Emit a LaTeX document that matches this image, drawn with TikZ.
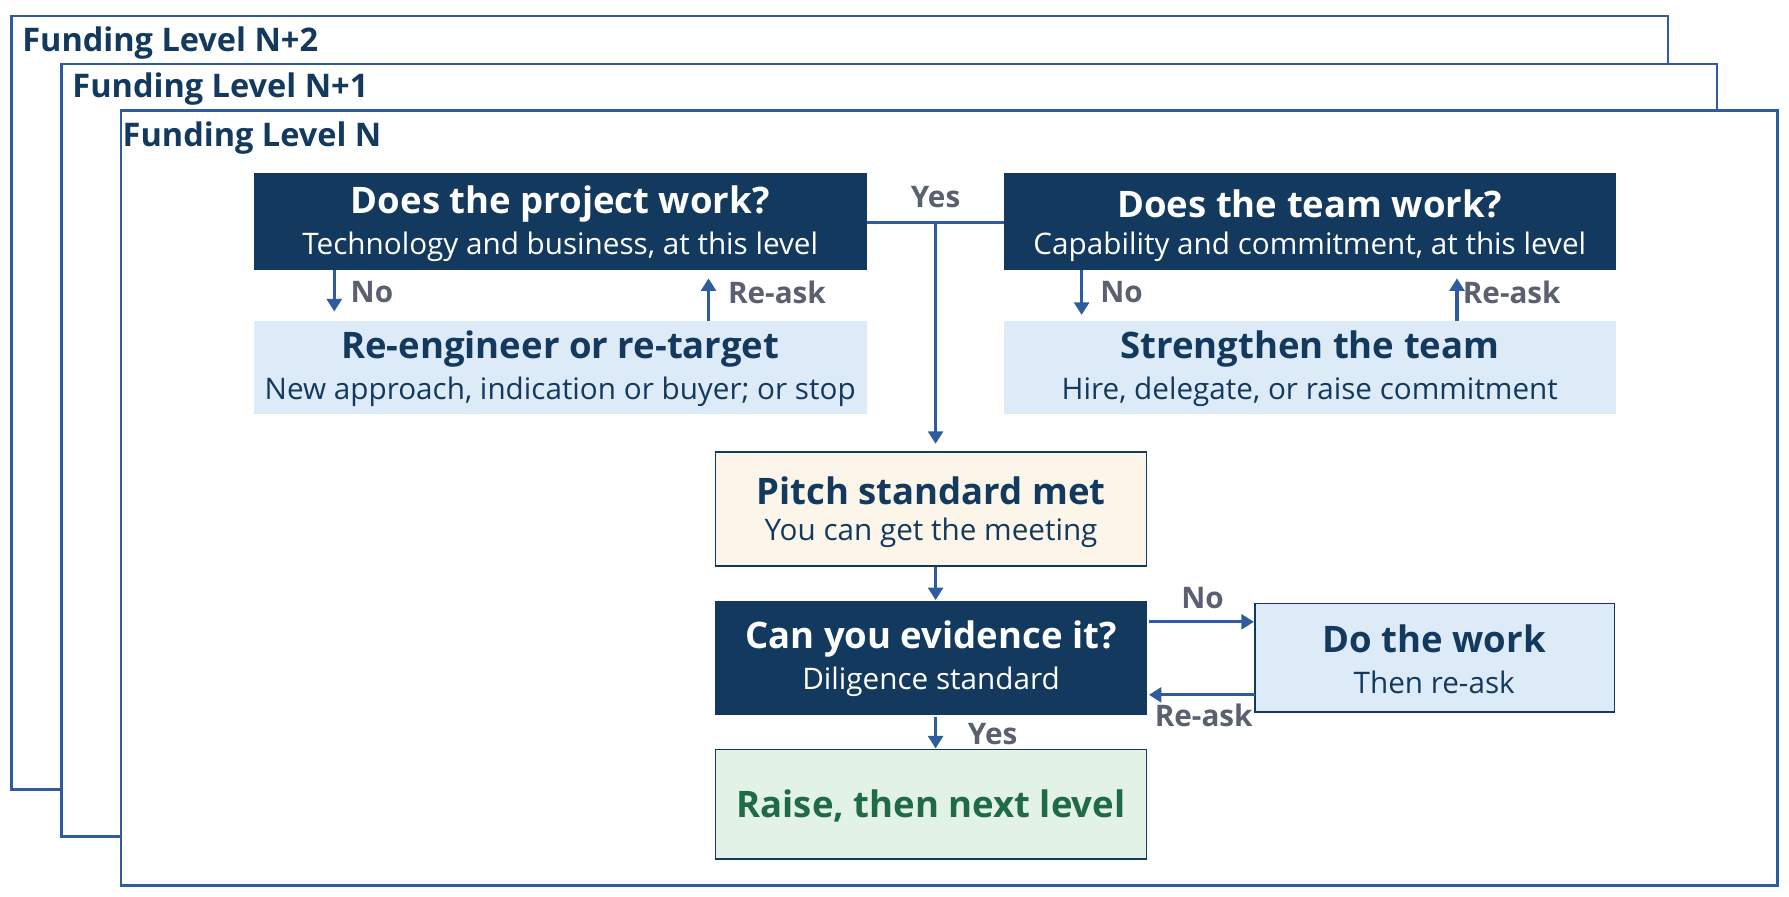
\documentclass[tikz,border=0pt]{standalone}
\usepackage{fontspec}
\setmainfont{Open Sans}
\usetikzlibrary{arrows.meta}
\definecolor{navy}{HTML}{133A5E}
\definecolor{lblue}{HTML}{DDEAF7}
\definecolor{cream}{HTML}{FBF6E9}
\definecolor{lgreen}{HTML}{E3F2E6}
\definecolor{gtext}{HTML}{1E6B45}
\definecolor{arr}{HTML}{2E5C9E}
\definecolor{lab}{HTML}{5A6070}
\begin{document}
\begin{tikzpicture}[x=1pt,y=-1pt,
 frame/.style={draw=arr,line width=2.2pt,fill=white},
 flab/.style={anchor=west,text=navy,font=\fontsize{28.5}{30}\selectfont\bfseries},
 ttl/.style={font=\fontsize{32}{36}\selectfont\bfseries},
 sub/.style={font=\fontsize{26}{30}\selectfont},
 con/.style={draw=arr,line width=2.8pt,-{Triangle[length=11pt,width=13pt]}},
 ln/.style={draw=arr,line width=2.8pt},
 clab/.style={text=lab,font=\fontsize{26}{30}\selectfont\bfseries}]
\useasboundingbox (0,0) rectangle (1568,786);
\draw[frame] (10,14) rectangle (1462,692);
\node[flab] (l2) at (16,38) {Funding Level N+2};
\draw[frame] (54,56) rectangle (1505,733);
\node[flab] (l1) at (60,78) {Funding Level N+1};
\draw[frame] (106,97) rectangle (1558,776);
\node[flab] (l0) at (104,121) {Funding Level N};
% boxes
\fill[navy] (223,152) rectangle (760,237);
\node[ttl,text=white] (At) at (491,179) {Does the project work?};
\node[sub,text=white] (As) at (491,216) {Technology and business, at this level};
\fill[navy] (880,152) rectangle (1416,237);
\node[ttl,text=white] (Bt) at (1148,179) {Does the team work?};
\node[sub,text=white] (Bs) at (1148,216) {Capability and commitment, at this level};
\fill[lblue] (223,281) rectangle (760,363);
\node[ttl,text=navy] (Ct) at (491,306) {Re-engineer or re-target};
\node[sub,text=navy] (Cs) at (491,343) {New approach, indication or buyer; or stop};
\fill[lblue] (880,281) rectangle (1416,363);
\node[ttl,text=navy] (Dt) at (1148,306) {Strengthen the team};
\node[sub,text=navy] (Ds) at (1148,343) {Hire, delegate, or raise commitment};
\draw[navy,fill=cream,line width=1.2pt] (627,396) rectangle (1005,496);
\node[ttl,text=navy] (Pt) at (816,430) {Pitch standard met};
\node[sub,text=navy] (Ps) at (816,467) {You can get the meeting};
\fill[navy] (627,527) rectangle (1005,627);
\node[ttl,text=white] (Et) at (816,560) {Can you evidence it?};
\node[sub,text=white] (Es) at (816,598) {Diligence standard};
\draw[navy,fill=lblue,line width=1.2pt] (1100,529) rectangle (1415,624);
\node[ttl,text=navy] (Wt) at (1257,560) {Do the work};
\node[sub,text=navy] (Ws) at (1257,598) {Then re-ask};
\draw[navy,fill=lgreen,line width=1.2pt] (627,657) rectangle (1005,753);
\node[ttl,text=gtext] (Rt) at (816,706) {Raise, then next level};
% connectors
\coordinate (ya) at (760,195); \coordinate (yb) at (880,195); \coordinate (yj) at (820,195);
\draw[ln] (ya) -- (yb);
\coordinate (pt) at (820,389);
\draw[con] (yj) -- (pt);
\node[clab] (yes1) at (820,173) {Yes};
\draw[con] (293,237) -- (293,273); \node[clab] (n1) at (326,256) {No};
\draw[con] (621,281) -- (621,244); \node[clab] (r1) at (681,256) {Re-ask};
\draw[con] (948,237) -- (948,276); \node[clab] (n2) at (983,256) {No};
\draw[con] (1277,281) -- (1277,244); \node[clab] (r2) at (1325,256) {Re-ask};
\draw[con] (820,497) -- (820,526);
\draw[con] (1007,545) -- (1099,545); \node[clab] (n3) at (1054,524) {No};
\draw[con] (1100,609) -- (1007,609); \node[clab] (r3) at (1055,627) {Re-ask};
\draw[con] (820,628) -- (820,656); \node[clab] (y2) at (870,643) {Yes};
\end{tikzpicture}
\end{document}
